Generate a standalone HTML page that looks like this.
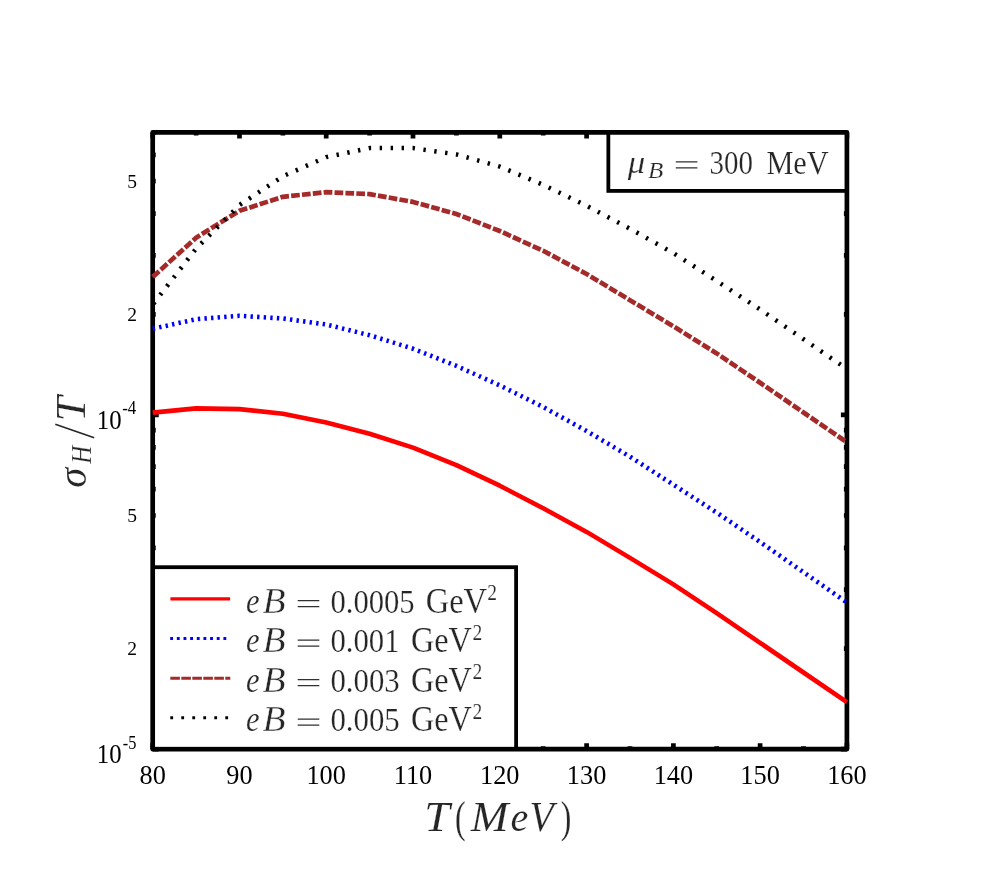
<!DOCTYPE html>
<html><head><meta charset="utf-8"><title>sigma_H/T vs T</title>
<style>html,body{margin:0;padding:0;background:#fff}svg{display:block;will-change:transform}text{font-family:"Liberation Serif",serif}.i{font-style:italic}</style>
</head><body>
<svg width="997" height="886" viewBox="0 0 997 886">
<rect width="997" height="886" fill="#fff"/>
<g stroke="#000" stroke-width="4.7" fill="none">
<path d="M152.7 749.2V743.2M152.7 132.4V138.4"/>
<path d="M196.1 749.2V746.2M196.1 132.4V135.4"/>
<path d="M239.5 749.2V743.2M239.5 132.4V138.4"/>
<path d="M282.9 749.2V746.2M282.9 132.4V135.4"/>
<path d="M326.2 749.2V743.2M326.2 132.4V138.4"/>
<path d="M369.6 749.2V746.2M369.6 132.4V135.4"/>
<path d="M413.0 749.2V743.2M413.0 132.4V138.4"/>
<path d="M456.4 749.2V746.2M456.4 132.4V135.4"/>
<path d="M499.8 749.2V743.2M499.8 132.4V138.4"/>
<path d="M543.2 749.2V746.2M543.2 132.4V135.4"/>
<path d="M586.6 749.2V743.2M586.6 132.4V138.4"/>
<path d="M630.0 749.2V746.2M630.0 132.4V135.4"/>
<path d="M673.4 749.2V743.2M673.4 132.4V138.4"/>
<path d="M716.7 749.2V746.2M716.7 132.4V135.4"/>
<path d="M760.1 749.2V743.2M760.1 132.4V138.4"/>
<path d="M803.5 749.2V746.2M803.5 132.4V135.4"/>
<path d="M846.9 749.2V743.2M846.9 132.4V138.4"/>
<path d="M152.7 749.2H158.7M846.9 749.2H840.9"/>
<path d="M152.7 648.6H155.7M846.9 648.6H843.9"/>
<path d="M152.7 589.7H155.7M846.9 589.7H843.9"/>
<path d="M152.7 547.9H155.7M846.9 547.9H843.9"/>
<path d="M152.7 515.5H155.7M846.9 515.5H843.9"/>
<path d="M152.7 489.1H155.7M846.9 489.1H843.9"/>
<path d="M152.7 466.7H155.7M846.9 466.7H843.9"/>
<path d="M152.7 447.3H155.7M846.9 447.3H843.9"/>
<path d="M152.7 430.2H155.7M846.9 430.2H843.9"/>
<path d="M152.7 414.9H158.7M846.9 414.9H840.9"/>
<path d="M152.7 314.3H155.7M846.9 314.3H843.9"/>
<path d="M152.7 255.4H155.7M846.9 255.4H843.9"/>
<path d="M152.7 213.6H155.7M846.9 213.6H843.9"/>
<path d="M152.7 181.2H155.7M846.9 181.2H843.9"/>
<path d="M152.7 154.8H155.7M846.9 154.8H843.9"/>
<path d="M152.7 132.4H155.7M846.9 132.4H843.9"/>
</g>
<rect x="152.7" y="132.4" width="694.2" height="616.8" fill="none" stroke="#000" stroke-width="4.7" stroke-linejoin="round"/>
<g fill="none" stroke-linejoin="round">
<path d="M152.7 412.6 L196.1 408.4 L239.5 409.1 L282.9 413.8 L326.2 422.6 L369.6 433.8 L413.0 447.6 L456.4 465.1 L499.8 485.7 L543.2 508.3 L586.6 531.9 L630.0 557.9 L673.4 584.4 L716.7 613.2 L760.1 642.8 L803.5 672.5 L846.9 702.2" stroke="#ff0000" stroke-width="4.6"/>
<path d="M152.7 328.8 L196.1 319.2 L239.5 315.8 L282.9 318.5 L326.2 324.5 L369.6 335.2 L413.0 348.7 L456.4 365.9 L499.8 385.4 L543.2 407.0 L586.6 431.0 L630.0 456.7 L673.4 484.7 L716.7 512.6 L760.1 542.0 L803.5 572.2 L846.9 602.5" stroke="#0000ff" stroke-width="4.6" stroke-dasharray="2.4 4.2"/>
<path d="M152.7 277.0 L196.1 237.7 L239.5 210.8 L282.9 196.8 L326.2 192.2 L369.6 194.1 L413.0 201.9 L456.4 214.0 L499.8 231.0 L543.2 250.8 L586.6 274.0 L630.0 300.2 L673.4 326.3 L716.7 353.4 L760.1 382.7 L803.5 412.5 L846.9 442.3" stroke="#a52a2a" stroke-width="4.7" stroke-dasharray="8.7 2.2"/>
<path d="M152.7 304.6 L196.1 248.6 L239.5 205.0 L282.9 176.3 L326.2 157.1 L369.6 148.1 L413.0 148.1 L456.4 154.4 L499.8 166.6 L543.2 184.8 L586.6 205.8 L630.0 228.7 L673.4 253.1 L716.7 280.9 L760.1 309.4 L803.5 339.2 L846.9 369.0" stroke="#000" stroke-width="4.5" stroke-dasharray="2.4 8.56" stroke-dashoffset="-1.2"/>
</g>
<rect x="608.35" y="132.85" width="238.10" height="58.05" fill="#fff" stroke="#000" stroke-width="3.8"/>
<rect x="153.15" y="567.2" width="362.95" height="181.55" fill="#fff" stroke="#000" stroke-width="3.8"/>
<g fill="none">
<path d="M170.4 598.8H230.1" stroke="#ff0000" stroke-width="3.2"/>
<path d="M170.2 638.5H229.8" stroke="#0000ff" stroke-width="3.0" stroke-dasharray="2.85 3.8"/>
<path d="M170.3 678.3H230.3" stroke="#a52a2a" stroke-width="3.1" stroke-dasharray="9.6 1.4"/>
<path d="M170.3 717.7H230.0" stroke="#000" stroke-width="3.1" stroke-dasharray="2.8 8.2"/>
</g>
<g fill="#262626">
<text class="i" transform="translate(246.00 612.60) scale(0.8752 1)" font-size="35.00" stroke="#fff" stroke-width="0.22">e</text>
<text class="i" transform="translate(262.50 612.60) scale(1.0674 1)" font-size="35.42" stroke="#fff" stroke-width="0.40">B</text>
<path d="M297.7 600.7h21.6M297.7 606.7h21.6" stroke="#303030" stroke-width="1.3" fill="none"/>
<text transform="translate(330.40 612.70) scale(0.9016 1)" font-size="34.00" stroke="#fff" stroke-width="0.22">0.0005</text>
<text transform="translate(425.70 612.70) scale(0.8970 1)" font-size="36.25" stroke="#fff" stroke-width="0.22">GeV</text>
<text transform="translate(487.30 600.10) scale(0.8887 1)" font-size="22.05" stroke="#fff" stroke-width="0.22">2</text>
<text class="i" transform="translate(246.00 652.00) scale(0.8752 1)" font-size="35.00" stroke="#fff" stroke-width="0.22">e</text>
<text class="i" transform="translate(262.50 652.00) scale(1.0674 1)" font-size="35.42" stroke="#fff" stroke-width="0.40">B</text>
<path d="M297.7 640.1h21.6M297.7 646.1h21.6" stroke="#303030" stroke-width="1.3" fill="none"/>
<text transform="translate(330.40 652.10) scale(0.9046 1)" font-size="34.00" stroke="#fff" stroke-width="0.22">0.001</text>
<text transform="translate(410.90 652.10) scale(0.8883 1)" font-size="36.25" stroke="#fff" stroke-width="0.22">GeV</text>
<text transform="translate(472.40 639.50) scale(0.8887 1)" font-size="22.05" stroke="#fff" stroke-width="0.22">2</text>
<text class="i" transform="translate(246.00 691.60) scale(0.8752 1)" font-size="35.00" stroke="#fff" stroke-width="0.22">e</text>
<text class="i" transform="translate(262.50 691.60) scale(1.0674 1)" font-size="35.42" stroke="#fff" stroke-width="0.40">B</text>
<path d="M297.7 679.7h21.6M297.7 685.7h21.6" stroke="#303030" stroke-width="1.3" fill="none"/>
<text transform="translate(330.40 691.70) scale(0.9072 1)" font-size="34.00" stroke="#fff" stroke-width="0.22">0.003</text>
<text transform="translate(410.90 691.70) scale(0.8883 1)" font-size="36.25" stroke="#fff" stroke-width="0.22">GeV</text>
<text transform="translate(472.40 679.10) scale(0.8887 1)" font-size="22.05" stroke="#fff" stroke-width="0.22">2</text>
<text class="i" transform="translate(246.00 731.10) scale(0.8752 1)" font-size="35.00" stroke="#fff" stroke-width="0.22">e</text>
<text class="i" transform="translate(262.50 731.10) scale(1.0674 1)" font-size="35.42" stroke="#fff" stroke-width="0.40">B</text>
<path d="M297.7 719.2h21.6M297.7 725.2h21.6" stroke="#303030" stroke-width="1.3" fill="none"/>
<text transform="translate(330.40 731.20) scale(0.9072 1)" font-size="34.00" stroke="#fff" stroke-width="0.22">0.005</text>
<text transform="translate(410.90 731.20) scale(0.8883 1)" font-size="36.25" stroke="#fff" stroke-width="0.22">GeV</text>
<text transform="translate(472.40 718.60) scale(0.8887 1)" font-size="22.05" stroke="#fff" stroke-width="0.22">2</text>
<text class="i" transform="translate(627.83 173.16) scale(1.1045 1)" font-size="31.50" stroke="#fff" stroke-width="0.22">μ</text>
<text class="i" transform="translate(647.90 177.70) scale(1.1082 1)" font-size="22.60" stroke="#fff" stroke-width="0.22">B</text>
<path d="M675.8 161.9h21.6M675.8 167.9h21.6" stroke="#303030" stroke-width="1.3" fill="none"/>
<text transform="translate(709.50 173.50) scale(0.8715 1)" font-size="33.20" stroke="#fff" stroke-width="0.22">300</text>
<text transform="translate(766.40 173.50) scale(0.8748 1)" font-size="34.66" stroke="#fff" stroke-width="0.22">MeV</text>
</g>
<g fill="#000" font-size="26.3" text-anchor="middle">
<text x="152.7" y="784">80</text>
<text x="239.5" y="784">90</text>
<text x="326.2" y="784">100</text>
<text x="413.0" y="784">110</text>
<text x="499.8" y="784">120</text>
<text x="586.6" y="784">130</text>
<text x="673.4" y="784">140</text>
<text x="760.1" y="784">150</text>
<text x="846.9" y="784">160</text>
</g>
<g fill="#000" text-anchor="end">
<text x="137.1" y="188.0" font-size="19.5">5</text>
<text x="137.1" y="321.1" font-size="19.5">2</text>
<text x="137.1" y="522.3" font-size="19.5">5</text>
<text x="137.1" y="655.4" font-size="19.5">2</text>
</g>
<g fill="#000">
<text transform="translate(96.80 428.93) scale(0.8952 1)" font-size="27.70">10</text>
<text transform="translate(122.20 414.21) scale(0.8840 1)" font-size="19.15">-4</text>
<text transform="translate(96.80 763.22) scale(0.8952 1)" font-size="27.70">10</text>
<text transform="translate(122.70 748.90) scale(0.8225 1)" font-size="19.85">-5</text>
</g>
<g fill="#262626">
<text class="i" transform="translate(424.30 831.40) scale(1.1145 1)" font-size="41.22" stroke="#fff" stroke-width="0.15">T</text>
<text transform="translate(455.00 832.05) scale(0.7025 1)" font-size="45.31" stroke="#fff" stroke-width="0.20">(</text>
<text class="i" transform="translate(470.84 831.40) scale(1.0972 1)" font-size="41.22" stroke="#fff" stroke-width="0.15">M</text>
<text class="i" transform="translate(510.60 831.40) scale(0.9660 1)" font-size="41.50" stroke="#fff" stroke-width="0.15">e</text>
<text class="i" transform="translate(529.60 831.40) scale(0.9594 1)" font-size="41.22" stroke="#fff" stroke-width="0.15">V</text>
<text transform="translate(560.80 832.05) scale(0.7025 1)" font-size="45.31" stroke="#fff" stroke-width="0.20">)</text>
</g>
<g fill="#262626" transform="translate(85.3 488.5) rotate(-90)">
<text class="i" transform="translate(0.70 0.30) scale(0.9849 1)" font-size="41.00" stroke="#fff" stroke-width="0.15">σ</text>
<text class="i" transform="translate(24.78 5.50) scale(0.8452 1)" font-size="29.62" stroke="#fff" stroke-width="0.25">H</text>
<path d="M50.7 8.9L64.3 -30" stroke="#262626" stroke-width="1.6" fill="none"/>
<text class="i" transform="translate(67.00 -0.30) scale(1.0868 1)" font-size="41.53" stroke="#fff" stroke-width="0.15">T</text>
</g>
</svg>
</body></html>
